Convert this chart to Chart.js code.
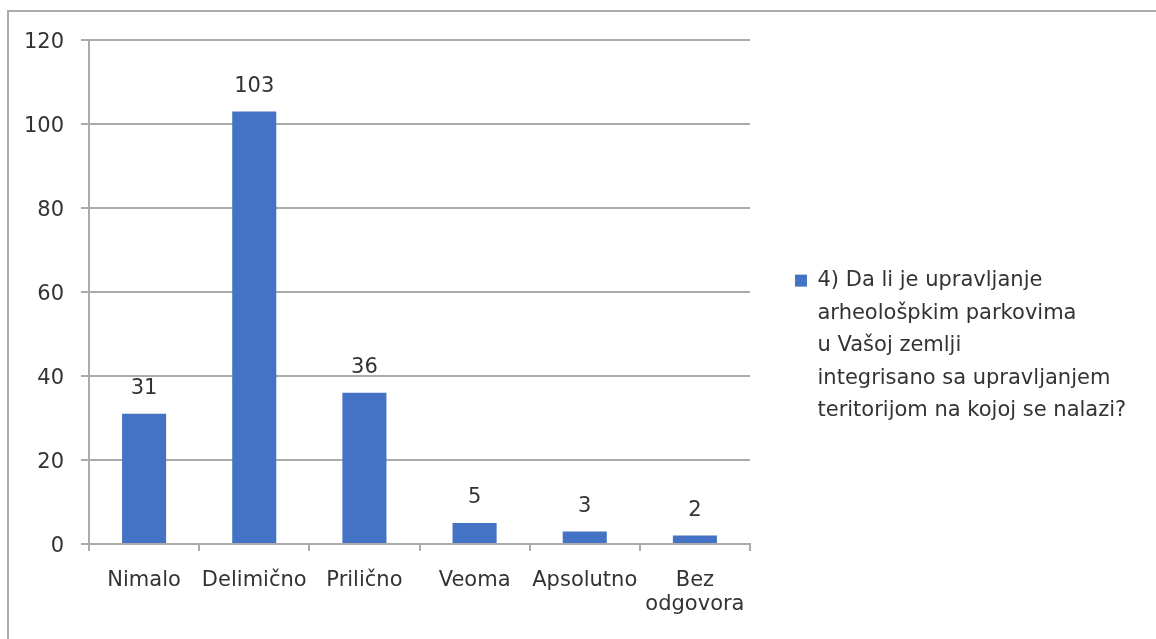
<!DOCTYPE html>
<html>
<head>
<meta charset="utf-8">
<script src="https://cdn.jsdelivr.net/npm/chart.js@4.4.1/dist/chart.umd.min.js"></script>
<style>
  html, body { margin: 0; padding: 0; background: #ffffff; overflow: hidden; }
  #frame { position: absolute; left: 7px; top: 10px; width: 2000px; height: 2000px; border: 2px solid #ababab; box-sizing: border-box; }
  #c { position: absolute; left: 0; top: 0; }
</style>
</head>
<body>
<div id="frame"></div>
<canvas id="c" width="1156" height="639"></canvas>
<script>
const categories = ['Nimalo', 'Delimično', 'Prilično', 'Veoma', 'Apsolutno', ['Bez', 'odgovora']];
const values = [31, 103, 36, 5, 3, 2];
const seriesLabel = ['4) Da li je upravljanje', 'arheološpkim parkovima', 'u Vašoj zemlji', 'integrisano sa upravljanjem', 'teritorijom na kojoj se nalazi?'];
const yTicks = [0, 20, 40, 60, 80, 100, 120];

const FONT = '"DejaVu Sans", sans-serif';
const TEXT = '#333333';
const GRID = '#ababab';

const valueLabels = {
  id: 'valueLabels',
  afterDatasetsDraw(chart) {
    const ctx = chart.ctx;
    const meta = chart.getDatasetMeta(0);
    ctx.save();
    ctx.font = '21px ' + FONT;
    ctx.fillStyle = TEXT;
    ctx.textAlign = 'center';
    ctx.textBaseline = 'middle';
    meta.data.forEach((bar, i) => {
      ctx.fillText(String(chart.data.datasets[0].data[i]), bar.x, bar.y - 25);
    });
    ctx.restore();
  }
};

const fixLegend = {
  id: 'fixLegend',
  beforeLayout(chart) {
    const lg = chart.legend;
    if (lg && !lg._fitPatched) {
      const origFit = lg.fit;
      lg.fit = function () { origFit.call(this); this.width = 406; };
      lg._fitPatched = true;
    }
  }
};

new Chart(document.getElementById('c'), {
  type: 'bar',
  data: {
    labels: categories,
    datasets: [{
      label: seriesLabel,
      data: values,
      backgroundColor: '#4472C4',
      borderWidth: 0,
      categoryPercentage: 1,
      barPercentage: 0.4
    }]
  },
  plugins: [valueLabels, fixLegend],
  options: {
    responsive: false,
    animation: false,
    layout: { padding: { top: 40, left: 0, right: 0, bottom: 0 } },
    plugins: {
      tooltip: { enabled: false },
      legend: {
        position: 'right',
        align: 'center',
        title: { display: true, text: '', padding: 0, font: { size: 12, lineHeight: 2 } },
        labels: {
          boxWidth: 12,
          boxHeight: 12,
          padding: 45,
          color: TEXT,
          font: { family: FONT, size: 21, lineHeight: 1.55 },
          generateLabels(chart) {
            const ds = chart.data.datasets[0];
            return [{ text: ds.label, fillStyle: ds.backgroundColor, strokeStyle: ds.backgroundColor, fontColor: TEXT, lineWidth: 0, hidden: false, datasetIndex: 0 }];
          }
        }
      }
    },
    scales: {
      x: {
        afterFit(scale) { scale.height = 95; },
        grid: { display: true, offset: true, drawOnChartArea: false, drawTicks: true, tickLength: 7, color: GRID, lineWidth: 2 },
        border: { display: true, color: GRID, width: 2 },
        ticks: { color: TEXT, padding: 17, maxRotation: 0, autoSkip: false, font: { family: FONT, size: 21, lineHeight: 1.15 } }
      },
      y: {
        min: 0,
        max: 120,
        afterFit(scale) { scale.width = 89; },
        afterBuildTicks(scale) { scale.ticks = yTicks.map(v => ({ value: v })); },
        grid: { color: GRID, lineWidth: 2, drawTicks: true, tickLength: 8 },
        border: { display: true, color: GRID, width: 2 },
        ticks: { color: TEXT, padding: 17, labelOffset: 3, font: { family: FONT, size: 21 } }
      }
    }
  }
});
</script>
</body>
</html>
